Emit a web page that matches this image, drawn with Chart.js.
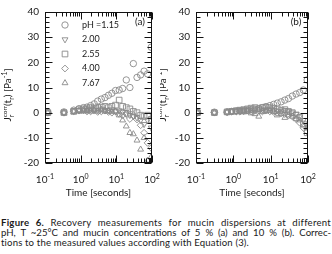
<!DOCTYPE html>
<html><head><meta charset="utf-8">
<script src="https://cdn.jsdelivr.net/npm/chart.js@4/dist/chart.umd.min.js"></script>
<style>
html,body{margin:0;padding:0;background:#fff;width:332px;height:254px;overflow:hidden}
canvas{position:absolute;top:0}
#ca{left:0}
#cb{left:160px}
.cap{position:absolute;left:1px;width:330px;font-family:Lato,sans-serif;font-size:9.6px;line-height:10.2px;color:#1a1a1a;white-space:nowrap}
.j{text-align:justify;text-align-last:justify}
</style></head><body>
<canvas id="ca" width="162" height="200"></canvas>
<canvas id="cb" width="162" height="200"></canvas>
<div class="cap j" style="top:218px;letter-spacing:0.25px"><b>Figure 6.</b> Recovery measurements for mucin dispersions at different</div>
<div class="cap j" style="top:228.2px;word-spacing:-0.8px">pH, T ~25°C and mucin concentrations of 5 % (a) and 10 % (b). Correc-</div>
<div class="cap" style="top:238.4px;letter-spacing:0.15px">tions to the measured values according with Equation (3).</div>
<script>
// ---------------- DATA ----------------
const seriesNames = ['pH =1.15', '2.00', '2.55', '4.00', '7.67'];
const xTickValues = [0.1, 1, 10, 100];
const xTickExponents = ['-1', '0', '1', '2'];
const yTickValues = [-20, -10, 0, 10, 20, 30, 40];

// time [s]
const timeA = [0.12, 0.34, 0.64, 0.9, 1.2, 1.5, 1.9, 2.4, 3.0, 3.8, 4.8, 6.0, 7.5, 9.5, 12, 15, 19, 24, 30, 38, 48, 60, 75, 95];
const timeB = [0.11, 0.31, 0.68, 0.9, 1.2, 1.5, 1.9, 2.4, 3.0, 3.8, 4.8, 6.0, 7.5, 9.5, 12, 15, 19, 24, 30, 38, 48, 60, 75, 95];

// panel (a): 5 % mucin
const a_pH115 = [0.2, 0.3, 1.0, 1.6, 2.0, 2.2, 2.8, 3.5, 4.6, 5.4, 6.0, 6.9, 7.7, 8.8, 9.0, 9.6, 13.0, 10.0, 19.5, 14.0, 15.0, 16.5, 15.4, 26.0];
const a_pH200 = [0.0, 0.0, 0.8, 1.0, 1.2, 1.0, 1.3, 1.2, 1.0, 1.5, 1.0, 0.8, 1.2, 0.5, 0.8, 0.3, -0.5, -1.0, -1.5, -2.0, -3.0, -4.6, -3.0, -6.0];
const a_pH255 = [0.0, 0.0, 0.5, 1.2, 1.5, 1.5, 2.0, 1.8, 2.0, 2.2, 2.5, 2.0, 2.5, 3.0, 5.0, 2.5, 2.0, 1.5, 0.5, 0.0, -1.0, -1.5, -1.0, -2.7];
const a_pH400 = [0.0, 0.0, 0.5, 0.8, 1.0, 0.5, 0.5, 0.8, 0.3, 0.5, 0.8, 0.3, 0.0, 0.5, -0.5, -1.0, -0.5, -2.5, -1.0, -2.7, -5.0, -8.0, -12.0, -14.0];
const a_pH767 = [0.0, 0.0, 0.3, 0.5, 0.5, 0.8, 0.5, 1.0, 0.5, 1.2, 0.5, 0.8, 0.3, 0.5, -1.0, -3.0, -5.4, -8.0, -8.5, -11.0, -14.6, -10.0, -19.0, -17.5];

// panel (b): 10 % mucin
const b_pH115 = [0.0, 0.2, 0.3, 0.5, 0.6, 0.7, 0.8, 1.0, 1.2, 1.4, 1.6, 2.0, 2.4, 2.8, 3.3, 3.8, 4.3, 5.0, 5.6, 6.6, 7.4, 8.0, 9.0, 13.0];
const b_pH200 = [0.0, 0.0, 0.3, 0.5, 0.5, 0.8, 1.0, 1.0, 1.2, 0.8, 1.5, 1.2, 1.0, 1.5, 1.0, 0.8, 0.5, 1.0, 0.5, 0.0, -0.5, -1.5, -3.0, -5.0];
const b_pH255 = [0.0, 0.0, 0.3, 0.5, 0.8, 1.0, 1.2, 1.5, 1.8, 2.0, 1.5, 2.0, 2.2, 2.0, 1.8, 1.5, 1.0, 1.2, 0.5, 0.0, -1.0, -2.0, -4.5, -8.0];
const b_pH400 = [0.0, 0.1, 0.2, 0.4, 0.5, 0.4, 0.6, 0.8, 0.5, 1.0, 0.8, 0.5, 1.0, 0.5, 0.3, 0.0, -0.3, -0.5, -1.0, -1.5, -2.5, -4.0, -6.0, -7.5];
const b_pH767 = [0.0, 0.0, 0.2, 0.3, 0.3, 0.5, 0.2, 0.5, -0.2, -0.5, -1.5, 0.3, 0.5, 0.8, 0.3, -1.0, -0.5, -2.0, -1.0, -1.5, -2.5, -3.0, -5.0, -6.0];

// ---------------- STYLE ----------------
const FONT = 'Lato, "Open Sans", sans-serif';
const MARK = '#8a8a8a';
const TXT = '#1a1a1a';
const styles = [
  {pointStyle: 'circle', rotation: 0, radius: 3.2},
  {pointStyle: 'triangle', rotation: 180, radius: 3.4},
  {pointStyle: 'rect', rotation: 0, radius: 4.0},
  {pointStyle: 'rectRot', rotation: 0, radius: 3.4},
  {pointStyle: 'triangle', rotation: 0, radius: 3.4}
];

function pts(t, v) { return t.map((x, i) => ({x: x, y: v[i]})); }

function makeDatasets(t, arrs) {
  return arrs.map((v, i) => ({
    label: seriesNames[i],
    data: pts(t, v),
    showLine: false,
    pointStyle: styles[i].pointStyle,
    rotation: styles[i].rotation,
    pointRadius: styles[i].radius,
    pointBorderWidth: 0.9,
    borderColor: MARK,
    backgroundColor: 'rgba(0,0,0,0)',
    pointBackgroundColor: 'rgba(0,0,0,0)',
    pointBorderColor: MARK
  }));
}

function drawShape(ctx, st, x, y) {
  const H = Chart.helpers;
  if (H && H.drawPoint) {
    H.drawPoint(ctx, {pointStyle: st.pointStyle, rotation: st.rotation, radius: st.radius, borderWidth: 0.9}, x, y);
  }
}

function richWidth(ctx, parts) {
  let w = 0, stackW = 0;
  parts.forEach(p => {
    ctx.font = p.s + 'px ' + FONT;
    const pw = ctx.measureText(p.t).width;
    if (p.stack === 1) { stackW = pw; }
    else if (p.stack === 2) { w += Math.max(stackW, pw); }
    else w += pw;
  });
  return w;
}
function drawRich(ctx, parts, x0, y) {
  let x = x0, stackW = 0;
  parts.forEach(p => {
    ctx.font = p.s + 'px ' + FONT;
    const pw = ctx.measureText(p.t).width;
    if (p.stack === 1) { ctx.fillText(p.t, x, y + p.dy); stackW = pw; }
    else if (p.stack === 2) { ctx.fillText(p.t, x, y + p.dy); x += Math.max(stackW, pw); }
    else { ctx.fillText(p.t, x, y + p.dy); x += pw; }
  });
}

const yTitleParts = [
  {t: 'J', s: 10, dy: 0},
  {t: 'r', s: 7, dy: 2.5, stack: 1},
  {t: 'corr', s: 6.5, dy: -4.5, stack: 2},
  {t: '(t', s: 10, dy: 0},
  {t: 'r', s: 7, dy: 2.5},
  {t: ') [Pa', s: 10, dy: 0},
  {t: '-1', s: 7, dy: -4},
  {t: ']', s: 10, dy: 0}
];

function framePlugin(opts) {
  return {
    id: 'frame',
    afterDraw(chart) {
      const ctx = chart.ctx, a = chart.chartArea, xs = chart.scales.x, ys = chart.scales.y;
      ctx.save();
      ctx.strokeStyle = '#111';
      ctx.lineWidth = 1;
      const L = Math.round(a.left) + 0.5, R = Math.round(a.right) - 0.5;
      const T = Math.round(a.top) + 0.5, B = Math.round(a.bottom) - 0.5;
      ctx.strokeRect(L, T, R - L, B - T);
      ctx.beginPath();
      for (let d = 0; d < xTickValues.length; d++) {
        const v = xTickValues[d];
        const px = Math.round(xs.getPixelForValue(v)) + 0.5;
        ctx.moveTo(px, B); ctx.lineTo(px, B - 7);
        ctx.moveTo(px, T); ctx.lineTo(px, T + 7);
        if (d < xTickValues.length - 1) {
          for (let k = 2; k <= 9; k++) {
            const q = Math.round(xs.getPixelForValue(v * k)) + 0.5;
            ctx.moveTo(q, B); ctx.lineTo(q, B - 4);
            ctx.moveTo(q, T); ctx.lineTo(q, T + 4);
          }
        }
      }
      for (let v = yTickValues[0]; v <= yTickValues[yTickValues.length - 1]; v += 2) {
        const py = Math.round(ys.getPixelForValue(v)) + 0.5;
        const len = (v % 10 === 0) ? 7 : 4;
        ctx.moveTo(L, py); ctx.lineTo(L + len, py);
        ctx.moveTo(R, py); ctx.lineTo(R - len, py);
      }
      ctx.stroke();

      ctx.fillStyle = TXT;
      ctx.textBaseline = 'alphabetic';
      xTickValues.forEach((v, i) => {
        const px = xs.getPixelForValue(v);
        const parts = [{t: '10', s: 10, dy: 0}, {t: xTickExponents[i], s: 7, dy: -4}];
        ctx.textAlign = 'left';
        const w = richWidth(ctx, parts);
        drawRich(ctx, parts, px - w / 2, 183);
      });
      ctx.font = '10px ' + FONT;
      ctx.textAlign = 'center';
      ctx.fillText('Time [seconds]', (a.left + a.right) / 2, 196);
      ctx.save();
      ctx.translate(opts.yTitleX, opts.yTitleY);
      ctx.rotate(-Math.PI / 2);
      ctx.textAlign = 'left';
      const tw = richWidth(ctx, yTitleParts);
      drawRich(ctx, yTitleParts, -tw / 2, 0);
      ctx.restore();
      ctx.font = '10px ' + FONT;
      ctx.textAlign = 'center';
      ctx.fillText(opts.panel, a.right - 12, 25);
      if (opts.legend) {
        const ly = [25, 39.5, 54, 68.5, 83];
        styles.forEach((st, i) => {
          ctx.strokeStyle = MARK;
          ctx.fillStyle = 'rgba(0,0,0,0)';
          ctx.lineWidth = 0.9;
          drawShape(ctx, st, a.left + 20, ly[i]);
          ctx.fillStyle = TXT;
          ctx.font = '9px ' + FONT;
          ctx.textAlign = 'left';
          ctx.textBaseline = 'middle';
          ctx.fillText(seriesNames[i], a.left + 37, ly[i]);
        });
      }
      ctx.restore();
    }
  };
}

function makeChart(id, t, arrs, yW, padR, opts) {
  return new Chart(document.getElementById(id), {
    type: 'scatter',
    data: {datasets: makeDatasets(t, arrs)},
    options: {
      responsive: false,
      devicePixelRatio: 1,
      animation: false,
      layout: {padding: {top: 6, right: padR, left: 0, bottom: 0}},
      plugins: {legend: {display: false}, tooltip: {enabled: false}},
      scales: {
        x: {
          type: 'logarithmic', min: 0.1, max: 100,
          grid: {display: false, drawTicks: false},
          border: {display: false},
          ticks: {display: false},
          afterFit: s => { s.height = 37; }
        },
        y: {
          min: -20, max: 40,
          grid: {display: false, drawTicks: false},
          border: {display: false},
          afterBuildTicks: s => { s.ticks = yTickValues.map(v => ({value: v})); },
          ticks: {padding: 6, color: TXT, font: {family: FONT, size: 10}},
          afterFit: s => { s.width = yW; }
        }
      }
    },
    plugins: [framePlugin(opts)]
  });
}

makeChart('ca', timeA, [a_pH115, a_pH200, a_pH255, a_pH400, a_pH767], 45, 10,
  {panel: '(a)', legend: true, yTitleX: 11, yTitleY: 95});
makeChart('cb', timeB, [b_pH115, b_pH200, b_pH255, b_pH400, b_pH767], 36, 14,
  {panel: '(b)', legend: false, yTitleX: 6, yTitleY: 95});
</script>
</body></html>
